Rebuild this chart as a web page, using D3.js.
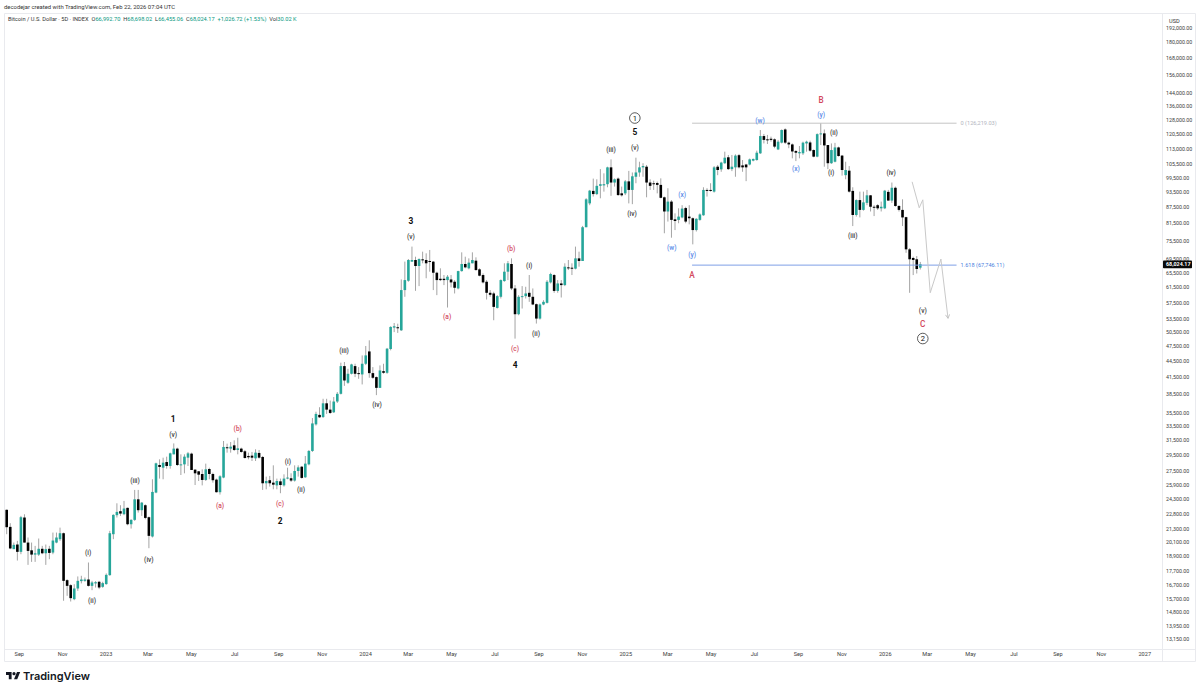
<!DOCTYPE html>
<html>
<head>
<meta charset="utf-8">
<title>Bitcoin / U.S. Dollar 5D</title>
<script src="https://cdn.jsdelivr.net/npm/d3@7"></script>
<style>
  html, body { margin: 0; background: #fff; }
  svg { display: block; font-family: Roboto, "Noto Sans", sans-serif; }
</style>
</head>
<body>
<svg id="chart" width="1200" height="690"></svg>
<script>
// Five-day candles as [open, high, low, close], grouped by calendar year.
const bars2022 = [
  [23170,23200,20820,21470],[21500,21850,19500,19560],[19500,20070,19500,19870],[19900,20220,18550,19270],
  [19270,22560,19070,22430],[22400,22720,20070,20070],[20070,20520,18200,19350],[19400,20070,18440,19040],
  [19040,19780,18440,19150],[19040,20430,18930,19530],[19530,19780,19070,19150],[19150,19900,18200,19500],
  [19530,19780,18660,19180],[19210,20970,19070,20250],[20070,20970,20010,20520],[20370,21430,20220,20910],
  [20910,20970,15550,16970],[17020,17090,15890,16600],[16650,16720,15500,15730],[15660,16720,15590,16410],
  [16410,17300,16240,16970],[16950,17350,16780,17070],[16970,17220,16900,17070],[17070,18390,16550,16600],
  [16600,16970,16290,16850],[16780,16950,16480,16870],[16900,16970,16360,16480],[16530,16900,16460,16800]
];
const bars2023 = [
  [16730,17530,16680,17420],[17400,21130,17350,20910],[20820,22720,20370,22660],[22630,23840,22400,22960],
  [23030,23640,22560,22790],[22730,24090,22630,23300],[23370,23400,21650,21750],[21750,22230,21340,22170],
  [22170,25280,22070,24260],[24260,25280,22890,23130],[23130,23980,22560,23910],[23640,23740,22230,22360],
  [22430,22500,19580,20670],[20610,26490,20520,25060],[24990,28490,24920,28410],[28200,28910,26570,27960],
  [27870,29120,26490,28490],[28570,29250,27750,28080],[28080,29770,27750,29680],[29550,31000,29550,30300],
  [30300,30430,28080,28200],[28200,29550,26990,28280],[28280,29550,27190,29250],[29120,29860,28080,29680],
  [29640,29770,27590,27590],[27630,27670,25830,27190],[27430,27470,26290,27030],[27110,27670,25790,26410],
  [26410,28370,26290,27670],[27710,27870,26490,27110],[27110,27270,26100,26380],[26450,26570,24990,25030],
  [25030,26960,24770,26840],[26690,31330,26610,30520],[30480,30970,29770,30350],[30300,31190,29770,30560],
  [30740,31420,29990,30120],[30120,31780,29550,30340],[30300,30430,29770,29860],[29950,30120,29000,29080],
  [29340,29770,28910,29170],[29380,29860,28700,29120],[29040,30210,28700,29770],[29730,30120,29000,29120],
  [29210,29340,25280,26030],[26030,26800,25350,26290],[26380,26880,25650,26030],[26100,28160,25350,25870],
  [25790,26570,25350,26290],[26250,26570,24920,25830],[25790,27070,25650,26570],[26570,27870,26490,26690],
  [26610,27190,26180,26340],[26340,28160,26220,27470],[27470,28160,26800,27910],[27990,28080,26570,26650],
  [26720,29340,26650,28370],[28280,30120,28160,29990],[29990,34650,29860,33840],[33700,35620,33520,35280],
  [35130,36330,34660,34760],[34800,37700,34660,36960],[36960,37700,35280,35950],[35950,37410,35280,35430],
  [35530,37990,35430,37250],[37250,38830,37010,38530],[38530,44170,38420,43510],[43510,44300,39900,40850],
  [40450,43000,40260,42070],[42070,43960,41950,43830],[43510,43960,41460,42070],[42190,43320,41150,42010],
  [41950,45600,40150,43960]
];
const bars2024 = [
  [43960,47520,43700,45600],[46400,48720,41340,42190],[42190,43320,41150,41340],[41460,41580,38310,39550],
  [39550,43640,39550,42690],[42560,43960,42070,42250],[42250,47110,42070,46960],[46900,51810,46620,51660],
  [51510,52560,50500,51810],[51590,52400,50320,51360],[50900,63620,50760,60720],[60720,68800,58960,63440],
  [63260,69580,62980,69280],[68780,73470,68780,69280],[69280,70290,60520,67480],[67480,69780,61790,69580],
  [69480,71860,68290,69280],[69280,71340,63950,68290],[68980,72400,65820,68680],[68780,68980,60720,65520],
  [65520,65820,59390,63440],[63810,66800,63170,63440],[63810,64860,62060,63440],[63440,64860,56250,64390],
  [63620,64860,61430,62800],[62980,63440,59830,61340],[61160,66090,60900,65990],[65990,71650,65820,68080],
  [68080,70290,66800,67080],[66800,69780,66500,68480],[68290,71650,68290,69280],[69080,70090,66100,66300],
  [66500,66800,64500,64670],[64860,65330,62510,62800],[62980,63440,58260,60000],[60000,60720,58960,59480],
  [59830,60280,53200,56410],[56160,59390,56000,59130],[58960,63620,58520,63440],[63170,68290,62980,65820],
  [65820,68980,63440,68290],[68080,69780,60720,61160],[61160,62060,49080,54620],[54620,59390,54380,58960],
  [58960,61790,56000,59130],[59130,61610,58520,59830],[60000,64860,57670,58960],[58960,61160,56830,57000],
  [57080,57250,52430,53590],[53590,57250,53350,57000],[57000,58090,56830,57670],[57420,63440,57250,62980],
  [62800,65520,62510,65150],[64860,65150,60000,60500],[60500,63440,60000,62510],[62510,63440,58780,62060],
  [62060,68290,61790,67280],[67080,69280,66300,66800],[66980,68290,64860,66700],[66700,73470,66500,69780],
  [69780,71860,67280,68980],[68980,80450,68980,79990],[79990,90850,79990,90400],[88800,94200,88100,93900],
  [93800,99000,91500,92500],[92500,98700,92100,95900],[95900,103200,90800,96600],[96100,101300,93500,96600],
  [96600,104300,95300,104000],[104000,107700,91800,97300],[97300,99100,95600,98700],[99000,99500,91800,92100],
  [92800,95600,91500,92000]
];
const bars2025 = [
  [92800,98400,92100,97800],[97800,102400,88800,94200],[94200,101700,88500,100000],[99800,108500,97000,101700],
  [101700,106600,99800,104000],[104000,105900,99800,104600],[104300,105100,91200,97300],[97300,98700,94200,95900],
  [97000,98100,94200,96600],[97100,97700,92800,96300],[96300,99100,90800,91000],[91200,91500,77900,85700],
  [85700,94900,82000,89500],[89500,90100,76400,82600],[82800,85000,79000,82200],[82600,86900,81400,83800],
  [83500,88100,83200,86800],[87000,87500,81400,82000],[83800,88100,81000,83200],[83200,83500,74200,79000],
  [79000,83200,78500,83000],[82600,85000,82300,84600],[84300,95300,84100,94200],[94200,94900,91500,93800],
  [94200,97000,93500,93800],[93500,104600,93100,104000],[104300,105100,100500,102800],[103100,106600,102000,106200],
  [105900,111400,105600,108500],[108700,109800,102800,103200],[103200,109800,102300,104300],[104000,110100,99800,109500],
  [109700,110300,103500,104000],[104900,107400,102000,104000],[105300,105600,97900,104000],[105300,108100,104900,107700],
  [107100,108100,106800,107900],[107400,111900,107100,110900],[110600,122500,110300,119300],[119300,120400,115500,117300],
  [117600,119900,115200,117300],[117900,119000,116400,117300],[117600,118100,113100,113900],[112500,117300,112200,116400],
  [115900,122800,115500,122500],[122800,123400,115200,115900],[115900,116400,113100,115000],[115000,115500,108200,111500],
  [111700,112200,106900,110900],[110600,114200,108200,111200],[110600,116400,109800,115900],[115500,116900,111400,116400],
  [116000,116900,111400,111900],[112200,112500,108700,109000],[109000,120700,108700,120300],[120300,126200,114700,120700],
  [120700,122800,104300,114500],[114700,114700,103200,105900],[105900,115500,105600,112200],[106600,115800,106300,113500],
  [113500,113900,109000,109300],[109500,109800,100300,102800],[100500,106600,98700,102800],[102500,104600,93100,93500],
  [93800,95300,80400,84400],[84400,90400,83800,90100],[90100,93500,83500,86300],[86300,93500,86000,89200],
  [89000,94200,88100,92000],[92000,92100,85700,87500],[87500,88100,84000,87200],[88100,88500,86300,86900],
  [86900,89500,85700,87500]
];
const bars2026 = [
  [86900,94200,86600,93900],[93400,94200,89900,89900],[89900,97300,89000,95100],[95100,95600,87500,87800],
  [87800,88100,85700,86300],[86300,90400,80400,83500],[83600,83750,71500,72600],[72600,73000,60000,69500],
  [69900,70300,64850,69300],[69500,70500,65300,66600],[66992.70,68698.02,66455.06,68024.17]
];

// Right-hand price scale labels and month labels along the time axis.
const priceTicks = [192000,180000,168000,156000,144000,136000,128000,120500,113000,105500,99500,93500,87500,81500,
  75500,69500,65500,61500,57500,53500,50500,47500,44500,41500,38500,35500,33500,31500,29500,27500,25900,24300,
  22800,21300,20100,18900,17700,16700,15700,14800,13950,13150];
const timeTickDates = ["2022-09-01","2022-11-01","2023-01-01","2023-03-01","2023-05-01","2023-07-01","2023-09-01",
  "2023-11-01","2024-01-01","2024-03-01","2024-05-01","2024-07-01","2024-09-01","2024-11-01","2025-01-01","2025-03-01",
  "2025-05-01","2025-07-01","2025-09-01","2025-11-01","2026-01-01","2026-03-01","2026-05-01","2026-07-01","2026-09-01",
  "2026-11-01","2027-01-01"];
const timeTickLabels = ["Sep","Nov","2023","Mar","May","Jul","Sep","Nov","2024","Mar","May","Jul","Sep","Nov","2025",
  "Mar","May","Jul","Sep","Nov","2026","Mar","May","Jul","Sep","Nov","2027"];

// Elliott wave counts: [text, bar number, price level].
const minorWaves = [
  ["(i)",22.9,19160],["(ii)",24,15530],["(iii)",36.1,26280],["(iv)",40,18600],["(v)",46.8,32200],
  ["(i)",79.1,28640],["(ii)",82.8,25300],["(iii)",94.9,46600],["(iv)",104.2,36800],["(v)",113.7,76700],
  ["(i)",147,67600],["(ii)",148.9,50100],["(iii)",170,112300],["(iv)",175.9,84800],["(v)",176.7,113300],
  ["(iii)",238,77000],["(i)",231.9,101500],["(ii)",232.7,121300],["(iv)",248.8,101500],["(v)",257.7,55500]
];
const primaryWaves = [["1",46.8,34560],["2",76.9,22100],["3",113.7,82200],["4",143,43800],["5",176.7,121300]];
const circledWaves = [["1",176.7,129100],["2",257.7,49100]];
const correctiveWaves = [
  ["(a)",60,23600],["(b)",65,33050],["(c)",76.9,23800],["(a)",123.9,54000],["(b)",141.9,72800],["(c)",143,47000]
];
const correctiveMajor = [["A",192.8,64700],["B",229.1,139700],["C",257.7,52200]];
const complexWaves = [
  ["(w)",187.1,73000],["(x)",190,92200],["(y)",192.8,71000],["(w)",211.9,127400],["(x)",222,103300],["(y)",229.1,130800]
];

// Fibonacci levels, drawn from the swing low bar out to the label.
const fibLevels = [
  { label: "0 (126,219.03)", price: 126219.03, color: "#b2b5be", lineColor: "#c4c4c4" },
  { label: "1.618 (67,746.11)", price: 67746.11, color: "#4c7fe0", lineColor: "#7e9fe6" }
];
const fibStartBar = 192.8;
const fibEndBar = 267.2;

// Projected path for the remainder of the wave.
const projectionBars = [254.7,256.7,257.7,259.8,262.8,264.8];
const projectionPrices = [97600,87100,90200,60020,69570,53650];

const UP = "#26a69a", DOWN = "#000000", WICK = "#9a9a9a", RED = "#d2475c", BLUE = "#5b8be8", INK = "#3d3d3d";

const bars = [...bars2022, ...bars2023, ...bars2024, ...bars2025, ...bars2026]
  .map(([open, high, low, close]) => ({ open, high, low, close }));

const DAY = 86400000;
const firstBar = Date.UTC(2022, 7, 15);
const barDate = i => new Date(firstBar + i * 5 * DAY);

const x = d3.scaleUtc().domain([barDate(0), barDate(bars.length - 1)]).range([6.7, 920.3]);
const y = d3.scaleLog().domain([13150, 128000]).range([639, 120]);
const xAt = i => x(barDate(i));

const svg = d3.select("#chart");

// Pane frame and the axis separators.
const frame = svg.append("g").attr("stroke", "#e9eaee").attr("stroke-width", 1);
[[4.5,13.5,1195.5,13.5],[4.5,13.5,4.5,661.5],[1162.5,13.5,1162.5,661.5],[1195.5,13.5,1195.5,661.5],
 [4.5,649.5,1195.5,649.5],[4.5,661.5,1195.5,661.5]]
  .forEach(([a,b,c,d]) => frame.append("line").attr("x1",a).attr("y1",b).attr("x2",c).attr("y2",d));

// Header lines.
svg.append("text").attr("x", 4).attr("y", 9).attr("font-size", 5.9).attr("fill", "#333")
  .text("decodejar created with TradingView.com, Feb 22, 2026 07:04 UTC");

const legend = svg.append("text").attr("x", 8).attr("y", 21).attr("font-size", 5.7).attr("fill", "#333");
const GREEN = "#089981";
[["Bitcoin / U.S. Dollar · 5D · INDEX  ", "#333"],["O","#333"],["66,992.70  ",GREEN],["H","#333"],["68,698.02  ",GREEN],
 ["L","#333"],["66,455.06  ",GREEN],["C","#333"],["68,024.17  ",GREEN],["+1,026.72 (+1.53%)  ",GREEN],["Vol","#333"],["30.02 K",GREEN]]
  .forEach(([t, c]) => legend.append("tspan").attr("fill", c).attr("xml:space","preserve").text(t));

// Price scale.
const yAxis = d3.axisRight(y).tickValues(priceTicks).tickSize(0).tickPadding(0)
  .tickFormat(d => d3.format(",.2f")(d));
const yG = svg.append("g").attr("transform", "translate(1166,0)").call(yAxis);
yG.select(".domain").remove();
yG.selectAll("text").attr("font-size", 5.3).attr("fill", "#3c3c3c").attr("font-family", "Roboto");
svg.append("text").attr("x", 1169).attr("y", 23).attr("font-size", 5.6).attr("fill", "#333").text("USD");

// Time scale.
const xAxis = d3.axisBottom(x).tickValues(timeTickDates.map(d => new Date(d + "T00:00:00Z"))).tickSize(0).tickPadding(0)
  .tickFormat((d, i) => timeTickLabels[i]);
const xG = svg.append("g").attr("transform", "translate(0,652)").call(xAxis);
xG.select(".domain").remove();
xG.selectAll("text").attr("font-size", 5.6).attr("fill", "#3c3c3c").attr("font-family", "Roboto");

// Candles: wick first, body on top.
const candles = svg.append("g").selectAll("g").data(bars).join("g");
candles.append("line")
  .attr("x1", (d, i) => xAt(i)).attr("x2", (d, i) => xAt(i))
  .attr("y1", d => y(d.high)).attr("y2", d => y(d.low))
  .attr("stroke", WICK).attr("stroke-width", 0.9);
candles.append("rect")
  .attr("x", (d, i) => xAt(i) - 1.3).attr("width", 2.6)
  .attr("y", d => y(Math.max(d.open, d.close)))
  .attr("height", d => Math.max(1, Math.abs(y(d.open) - y(d.close))))
  .attr("fill", d => d.close >= d.open ? UP : DOWN);

// Fibonacci levels.
fibLevels.forEach(l => {
  svg.append("line").attr("x1", xAt(fibStartBar)).attr("x2", xAt(fibEndBar))
    .attr("y1", y(l.price)).attr("y2", y(l.price)).attr("stroke", l.lineColor).attr("stroke-width", 1);
  svg.append("text").attr("x", xAt(fibEndBar) + 4).attr("y", y(l.price)).attr("dy", "0.35em")
    .attr("font-size", 5.6).attr("fill", l.color).text(l.label);
});

// Projection path with an open arrow head.
svg.append("defs").append("marker").attr("id", "arrow").attr("viewBox", "0 0 6 6")
  .attr("refX", 5).attr("refY", 3).attr("markerWidth", 5).attr("markerHeight", 5).attr("orient", "auto")
  .append("path").attr("d", "M0.5 0.5L5 3L0.5 5.5").attr("fill", "none").attr("stroke", "#bdbdbd").attr("stroke-width", 1);
svg.append("path")
  .datum(projectionBars.map((b, i) => [b, projectionPrices[i]]))
  .attr("d", d3.line().x(d => xAt(d[0])).y(d => y(d[1])))
  .attr("fill", "none").attr("stroke", "#c9c9c9").attr("stroke-width", 1)
  .attr("marker-end", "url(#arrow)");

// Wave labels.
const addLabels = (rows, color, size, weight) => svg.append("g").selectAll("text").data(rows).join("text")
  .attr("x", d => xAt(d[1])).attr("y", d => y(d[2])).attr("dy", "0.35em")
  .attr("text-anchor", "middle").attr("font-size", size).attr("font-weight", weight).attr("fill", color)
  .text(d => d[0]);

addLabels(minorWaves, INK, 6.6, 500);
addLabels(primaryWaves, "#111", 8.4, 700);
addLabels(correctiveWaves, RED, 6.6, 500);
addLabels(correctiveMajor, RED, 8.2, 500);
addLabels(complexWaves, BLUE, 6.6, 500);

const circled = svg.append("g").selectAll("g").data(circledWaves).join("g")
  .attr("transform", d => `translate(${xAt(d[1])},${y(d[2])})`);
circled.append("circle").attr("r", 5.3).attr("fill", "#fff").attr("stroke", "#333").attr("stroke-width", 0.8);
circled.append("text").attr("text-anchor", "middle").attr("dy", "0.36em").attr("font-size", 7.6).attr("fill", "#111").text(d => d[0]);

// Last price tag on the scale.
const lastClose = bars[bars.length - 1].close;
svg.append("rect").attr("x", 1163).attr("y", y(lastClose) - 3.8).attr("width", 29).attr("height", 7.8)
  .attr("rx", 0.8).attr("fill", "#0a0a0a");
svg.append("text").attr("x", 1166).attr("y", y(lastClose)).attr("dy", "0.35em").attr("font-size", 5.4)
  .attr("font-weight", 700).attr("fill", "#fff").text(d3.format(",.2f")(lastClose));

// Footer wordmark.
svg.append("path").attr("transform", "translate(6,670.5) scale(0.4)")
  .attr("d", "M14 22H7V11H0V4h14v18zM28 22h-8l7.5-18h8L28 22z").attr("fill", "#131722");
svg.append("circle").attr("transform", "translate(6,670.5) scale(0.4)").attr("cx", 20).attr("cy", 8).attr("r", 4).attr("fill", "#131722");
svg.append("text").attr("x", 23).attr("y", 680).attr("font-family", "Inter, Roboto").attr("font-size", 11).attr("font-weight", 600)
  .attr("fill", "#131722").text("TradingView");
</script>
</body>
</html>
